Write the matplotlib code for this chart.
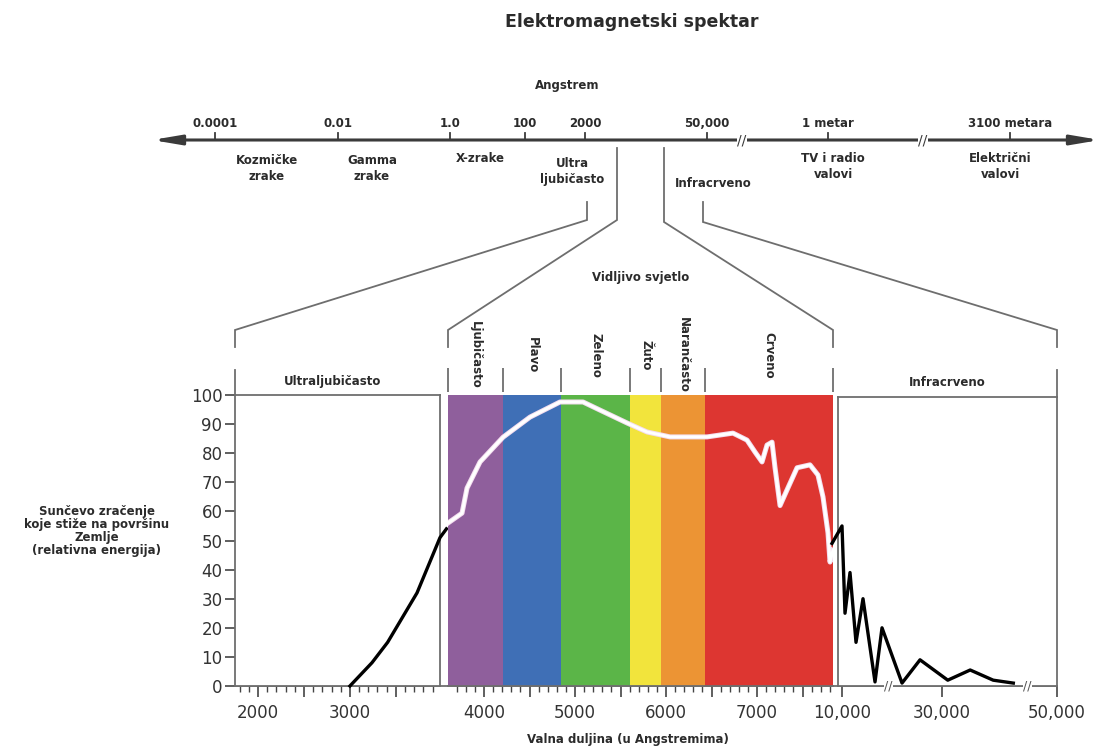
import numpy as np
import matplotlib
matplotlib.use("Agg")
from matplotlib import pyplot as plt
from matplotlib import transforms
from matplotlib.patches import FancyArrowPatch
from matplotlib.ticker import MultipleLocator, FuncFormatter

# ---- data ----
title = "Elektromagnetski spektar"

top_tick_labels = ["0.0001", "0.01", "1.0", "100", "2000", "50,000", "1 metar", "3100 metara"]
top_regions = ["Kozmičke\nzrake", "Gamma\nzrake", "X-zrake", "Ultra\nljubičasto",
               "Infracrveno", "TV i radio\nvalovi", "Električni\nvalovi"]

# ultraviolet part (black line)
uv_wl = [3000, 3240, 3410, 3730, 3980, 4050]
uv_val = [0, 8, 15, 32, 51, 54]

# visible part (white line)
vis_wl = [3604, 3758, 3813, 3956, 4209, 4505, 4835, 5088, 5275, 5571, 5791, 6044,
          6451, 6736, 6890, 6978, 7055, 7110, 7165, 7198, 7253, 7330, 7440, 7582,
          7670, 7725, 7780, 7802, 7835]
vis_val = [56, 59.4, 68, 77, 85.5, 92.4, 97.6, 97.6, 94.8, 90.4, 87.3, 85.6,
           85.6, 86.9, 84.5, 80.4, 77, 82.8, 83.8, 75, 62, 67.4, 75, 76,
           72.5, 65, 52.6, 42.6, 46.7]

# infrared part (black line)
ir_wl = [8000, 10000, 10600, 11600, 12800, 14200, 16600, 18000, 22000, 25600,
         31000, 34900, 38900, 42400]
ir_val = [49, 55, 25, 39, 15, 30, 1.4, 20, 1, 9, 2, 5.5, 2, 1]

band_edges = [3604, 4209, 4846, 5604, 5945, 6429, 7835]
band_names = ["Ljubičasto", "Plavo", "Zeleno", "Žuto", "Narančasto", "Crveno"]
band_colors = ["#8f5f9c", "#3f6fb6", "#5bb548", "#f2e43c", "#ec9434", "#dd3631"]

ir_ticks = [10000, 30000, 50000]
ir_breaks = [19200, 44800]

# ---- layout (pixels of the 1101x748 picture) ----
W, H = 1101, 748
UV_L, UV_R = 235, 440
VIS_L, VIS_R = 448, 833
IR_L, IR_R = 838, 1057
TOP, BOT = 395, 686
AX_Y = 140
top_tick_pos = [215, 338, 450, 525, 585, 707, 828, 1010]
top_region_pos = [(267, 168), (372, 168), (480, 158), (572, 171), (713, 183), (833, 166), (1000, 166)]
top_breaks = [742, 923]

GRAY = "#6e6e6e"
TXT = "#2b2b2b"
plt.rcParams['font.family'] = ['DejaVu Sans']


def rect(x0, y0, x1, y1):
    return [x0 / W, 1 - y1 / H, (x1 - x0) / W, (y1 - y0) / H]


fig = plt.figure(figsize=(W / 100, H / 100), dpi=100)

# overlay in picture pixels for the schematic part
ov = fig.add_axes([0, 0, 1, 1])
ov.set_xlim(0, W)
ov.set_ylim(H, 0)
ov.axis("off")

bold = dict(fontsize=8.5, fontweight="bold", color=TXT)
ov.text(632, 22, title, ha="center", va="center", fontsize=12.5, fontweight="bold", color=TXT)
ov.text(567, 85, "Angstrem", ha="center", va="center", **bold)

arr = FancyArrowPatch((152, AX_Y), (1100, AX_Y), arrowstyle="<|-|>,head_length=1.3,head_width=0.22",
                      mutation_scale=13, color="#3a3a3a", lw=2.2, shrinkA=0, shrinkB=0)
ov.add_patch(arr)
for x, lab in zip(top_tick_pos, top_tick_labels):
    ov.plot([x, x], [AX_Y - 7, AX_Y], color="#3a3a3a", lw=1.3)
    ov.text(x, 123, lab, ha="center", va="center", **bold)
for x in top_breaks:
    ov.text(x, AX_Y, "//", ha="center", va="center", fontsize=10, color="#3a3a3a",
            bbox=dict(facecolor="white", edgecolor="none", pad=0.3))
for (x, y), lab in zip(top_region_pos, top_regions):
    ov.text(x, y, lab, ha="center", va="center", linespacing=1.3, **bold)

# connector lines from the spectrum bar down to the chart
conn = [
    [(587, 202), (587, 220), (UV_L, 330), (UV_L, 347)],
    [(617, 148), (617, 220), (VIS_L, 330), (VIS_L, 347)],
    [(664, 148), (664, 222), (VIS_R, 330), (VIS_R, 347)],
    [(703, 202), (703, 222), (IR_R, 330), (IR_R, 347)],
]
for pts in conn:
    xs, ys = zip(*pts)
    ov.plot(xs, ys, color=GRAY, lw=1.3, solid_joinstyle="miter")

ov.text(641, 277, "Vidljivo svjetlo", ha="center", va="center", **bold)
ov.text((UV_L + UV_R) / 2 - 5, 381, "Ultraljubičasto", ha="center", va="center", **bold)
ov.text((IR_L + IR_R) / 2, 382, "Infracrveno", ha="center", va="center", **bold)
ov.text(97, 531, "Sunčevo zračenje\nkoje stiže na površinu\nZemlje\n(relativna energija)",
        ha="center", va="center", linespacing=1.0, **bold)
ov.text(628, 740, "Valna duljina (u Angstremima)", ha="center", va="center", **bold)
ov.plot([UV_L, IR_R], [BOT, BOT], color=GRAY, lw=1.3)

head = 25 / (BOT - TOP)  # header tick height in axes fraction


def label_fmt(v, pos):
    return f"{int(v)}" if abs(v % 1000) < 1e-6 else ""


def style_x(ax):
    ax.xaxis.set_major_locator(MultipleLocator(500))
    ax.xaxis.set_minor_locator(MultipleLocator(100))
    ax.xaxis.set_major_formatter(FuncFormatter(label_fmt))
    ax.tick_params(axis="x", which="major", length=8, width=1.2, color="#444", pad=5,
                   labelsize=12, labelcolor="#333")
    ax.tick_params(axis="x", which="minor", length=4.5, width=1.0, color="#444")


# ---- ultraviolet box ----
ax_uv = fig.add_axes(rect(UV_L, TOP, UV_R, BOT))
ax_uv.set_xlim(1750, 3980)
ax_uv.set_ylim(0, 100)
ax_uv.plot(uv_wl, uv_val, color="black", lw=2.4, clip_on=False, zorder=5)
style_x(ax_uv)
ax_uv.set_yticks(range(0, 101, 10))
ax_uv.tick_params(axis="y", length=7, width=1.2, color="#444", pad=2, labelsize=12, labelcolor="#333")
for s in ax_uv.spines.values():
    s.set_color(GRAY)
    s.set_linewidth(1.3)
ax_uv.plot([0, 0], [1, 1 + head], transform=ax_uv.transAxes, color=GRAY, lw=1.3, clip_on=False)

# ---- visible bands ----
ax_vis = fig.add_axes(rect(VIS_L, TOP, VIS_R, BOT))
ax_vis.set_xlim(band_edges[0], band_edges[-1])
ax_vis.set_ylim(0, 100)
for x0, x1, c in zip(band_edges[:-1], band_edges[1:], band_colors):
    ax_vis.axvspan(x0, x1, color=c, lw=0)
ax_vis.plot(vis_wl, vis_val, color="#f4dcef", lw=3.6, solid_joinstyle="round", zorder=4)
ax_vis.plot(vis_wl, vis_val, color="white", lw=2.2, solid_joinstyle="round", zorder=5)
style_x(ax_vis)
ax_vis.set_yticks([])
for side in ["left", "right", "top"]:
    ax_vis.spines[side].set_visible(False)
ax_vis.spines["bottom"].set_color(GRAY)
ax_vis.spines["bottom"].set_linewidth(1.3)
blend = transforms.blended_transform_factory(ax_vis.transData, ax_vis.transAxes)
ax_vis.vlines(band_edges, 1 + 3 / (BOT - TOP), 1 + head + 2 / (BOT - TOP), transform=blend,
              color=GRAY, lw=1.3, clip_on=False)
for x0, x1, name in zip(band_edges[:-1], band_edges[1:], band_names):
    ax_vis.text((x0 + x1) / 2, 1 + 40 / (BOT - TOP), name, transform=blend, rotation=270,
                ha="center", va="center", rotation_mode="anchor", **bold)


# ---- infrared box (scale with breaks) ----
def ir_fwd(x):
    x = np.asarray(x, float)
    return np.where(x <= 30000, (x - 9200) / 200.0, 104 + (x - 30000) / 174.0)


def ir_inv(y):
    y = np.asarray(y, float)
    return np.where(y <= 104, 9200 + y * 200.0, 30000 + (y - 104) * 174.0)


ax_ir = fig.add_axes(rect(IR_L, TOP + 2, IR_R, BOT))
ax_ir.set_xscale("function", functions=(ir_fwd, ir_inv))
ax_ir.set_xlim(9200, 50000)
ax_ir.set_ylim(0, 100 * (BOT - TOP - 2) / (BOT - TOP))
ax_ir.plot(ir_wl, ir_val, color="black", lw=2.4, clip_on=False, zorder=5)
ax_ir.set_xticks(ir_ticks)
ax_ir.set_xticklabels([f"{v:,}" for v in ir_ticks])
ax_ir.xaxis.set_minor_locator(plt.NullLocator())
ax_ir.tick_params(axis="x", length=8, width=1.2, color="#444", pad=5, labelsize=12, labelcolor="#333")
ax_ir.set_yticks([])
for s in ax_ir.spines.values():
    s.set_color(GRAY)
    s.set_linewidth(1.3)
ax_ir.plot([1, 1], [1, 1 + (head * (BOT - TOP) + 2) / (BOT - TOP - 2)], transform=ax_ir.transAxes,
           color=GRAY, lw=1.3, clip_on=False)
bl_ir = transforms.blended_transform_factory(ax_ir.transData, ax_ir.transAxes)
for b in ir_breaks:
    ax_ir.text(b, 0, "//", transform=bl_ir, ha="center", va="center", fontsize=9, color="#555",
               bbox=dict(facecolor="white", edgecolor="none", pad=0.2), zorder=3)

fig.savefig("out.png", dpi=100, facecolor="white")
